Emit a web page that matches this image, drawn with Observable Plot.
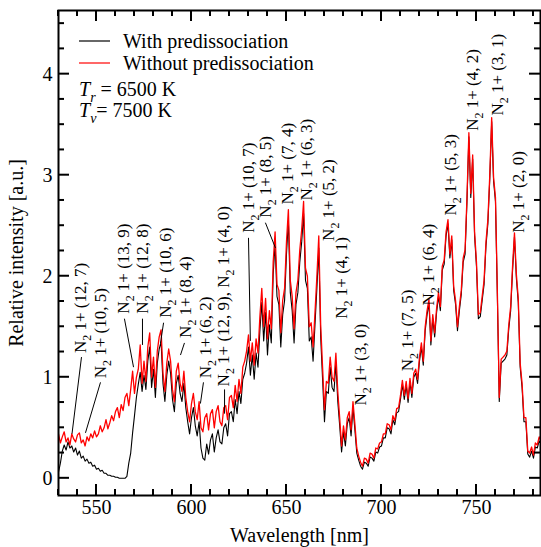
<!DOCTYPE html>
<html><head><meta charset="utf-8">
<script src="https://cdn.jsdelivr.net/npm/d3@7"></script>
<script src="https://cdn.jsdelivr.net/npm/@observablehq/plot@0.6"></script>
<style>body{margin:0;background:#fff}#chart svg{display:block}</style>
</head><body><div id="chart"></div>
<script>
// sampled wavelength grid (nm)
const wavelengths = d3.range(529, 785);
// "With predissociation" (black)
const withPre = [
0.00,0.06,0.15,0.27,0.33,0.28,0.36,0.30,0.32,0.26,
0.30,0.23,0.27,0.20,0.22,0.17,0.19,0.15,0.16,0.12,
0.13,0.09,0.10,0.07,0.08,0.05,0.05,0.03,0.03,0.02,
0.02,0.01,0.01,0.00,0.00,0.00,0.00,0.02,0.15,0.25,
0.45,0.62,0.80,0.93,1.05,0.86,1.02,0.88,1.16,1.30,
0.90,1.08,0.80,1.14,1.28,1.35,0.94,0.76,1.02,1.16,
1.04,0.78,0.66,0.94,1.02,0.84,0.76,0.94,0.70,0.56,
0.44,0.60,0.70,0.52,0.42,0.56,0.30,0.20,0.18,0.34,
0.24,0.38,0.44,0.26,0.40,0.48,0.36,0.34,0.50,0.54,
0.42,0.64,0.66,0.56,0.78,0.64,0.86,0.74,0.98,1.04,
1.14,1.30,1.02,1.22,0.98,1.24,1.10,1.46,1.74,1.36,
1.64,1.22,1.52,1.34,2.02,2.32,1.80,1.72,1.30,1.62,
1.76,2.22,2.55,1.84,1.66,1.34,1.72,1.84,2.14,2.34,
2.62,1.96,1.88,1.36,1.40,1.16,1.52,1.88,2.28,1.40,
0.98,0.56,0.86,0.84,1.10,0.90,0.86,1.14,0.76,0.52,
0.26,0.46,0.32,0.54,0.60,0.42,0.70,0.48,0.25,0.18,
0.12,0.09,0.16,0.15,0.12,0.21,0.20,0.17,0.26,0.25,
0.31,0.32,0.40,0.40,0.50,0.49,0.44,0.58,0.53,0.65,
0.66,0.78,0.93,0.78,0.92,0.75,0.95,0.80,1.00,1.04,
0.94,1.16,1.30,1.12,1.46,1.62,1.73,1.32,1.58,1.40,
1.64,1.80,1.66,2.06,2.12,2.40,2.52,2.18,2.36,1.86,
1.72,1.46,1.66,1.82,2.14,2.22,2.74,3.38,2.78,3.16,
2.40,2.10,1.58,1.60,1.76,1.92,2.30,2.52,2.96,3.53,
2.94,2.74,1.80,0.76,1.14,1.16,1.18,1.22,1.48,1.66,
2.06,2.39,1.98,1.74,1.10,0.90,0.56,0.56,0.24,0.21,
0.27,0.20,0.31,0.30,0.37,0.34];
// "Without predissociation" (red)
const withoutPre = [
0.38,0.44,0.35,0.41,0.46,0.36,0.40,0.33,0.44,0.39,
0.36,0.43,0.45,0.35,0.38,0.32,0.41,0.37,0.44,0.40,
0.47,0.41,0.44,0.52,0.46,0.50,0.58,0.49,0.55,0.62,
0.57,0.66,0.70,0.60,0.73,0.67,0.80,0.84,0.72,0.88,
1.06,0.84,1.00,1.08,1.32,0.94,1.16,0.96,1.30,1.44,
1.00,1.20,0.90,1.26,1.40,1.47,1.04,0.86,1.14,1.28,
1.16,0.88,0.76,1.06,1.14,0.94,0.86,1.06,0.80,0.66,
0.56,0.74,0.84,0.66,0.58,0.76,0.50,0.46,0.60,0.64,
0.48,0.64,0.68,0.50,0.66,0.72,0.56,0.52,0.70,0.72,
0.58,0.80,0.82,0.70,0.92,0.76,0.98,0.84,1.10,1.16,
1.26,1.42,1.16,1.34,1.12,1.38,1.24,1.60,1.88,1.50,
1.78,1.38,1.66,1.48,2.14,2.44,1.92,1.86,1.44,1.76,
1.88,2.34,2.66,1.96,1.80,1.48,1.84,1.96,2.26,2.46,
2.74,2.08,2.00,1.50,1.54,1.30,1.64,2.00,2.40,1.52,
1.10,0.68,0.96,0.94,1.20,1.00,0.96,1.24,0.86,0.60,
0.32,0.52,0.38,0.60,0.66,0.48,0.76,0.54,0.30,0.22,
0.16,0.12,0.20,0.19,0.15,0.25,0.24,0.20,0.30,0.29,
0.35,0.36,0.44,0.44,0.54,0.53,0.48,0.62,0.57,0.69,
0.70,0.82,0.97,0.82,0.96,0.79,0.99,0.84,1.04,1.08,
0.98,1.20,1.34,1.16,1.50,1.66,1.77,1.36,1.62,1.44,
1.68,1.84,1.70,2.10,2.16,2.44,2.56,2.22,2.40,1.90,
1.76,1.50,1.70,1.86,2.18,2.26,2.78,3.42,2.82,3.20,
2.44,2.14,1.62,1.64,1.80,1.96,2.34,2.56,3.00,3.57,
2.98,2.78,1.84,0.80,1.18,1.20,1.22,1.26,1.52,1.70,
2.10,2.43,2.02,1.78,1.14,0.94,0.60,0.60,0.27,0.25,
0.31,0.23,0.35,0.33,0.41,0.37];

const xTicks = [550, 600, 650, 700, 750];
const xMinorTicks = [530,540,560,570,580,590,610,620,630,640,660,670,680,690,710,720,730,740,760,770,780];
const yTicks = [0, 1, 2, 3, 4];
const yMinorTicks = [0.25,0.5,0.75,1.25,1.5,1.75,2.25,2.5,2.75,3.25,3.5,3.75,4.25,4.5];

// band annotations (text, anchor wavelength, anchor intensity)
const labelText = [
"N_{2} 1+ (12, 7)","N_{2} 1+ (10, 5)","N_{2} 1+ (13, 9)","N_{2} 1+ (12, 8)",
"N_{2} 1+ (10, 6)","N_{2} 1+ (8, 4)","N_{2} 1+ (6, 2)","N_{2} 1+ (12, 9), N_{2} 1+ (4, 0)",
"N_{2} 1+ (10, 7)","N_{2} 1+ (8, 5)","N_{2} 1+ (7, 4)","N_{2} 1+ (6, 3)",
"N_{2} 1+ (5, 2)","N_{2} 1+ (4, 1)","N_{2} 1+ (3, 0)","N_{2} 1+ (7, 5)",
"N_{2} 1+ (6, 4)","N_{2} 1+ (5, 3)","N_{2} 1+ (4, 2)","N_{2} 1+ (3, 1)","N_{2} 1+ (2, 0)"];
const labelX = [541.6,552.1,564.2,574.2,586.3,596.8,607.4,616.8,630.0,638.9,650.5,660.5,672.1,678.9,688.9,713.7,724.7,736.3,747.9,761.1,772.1];
const labelY = [1.24,0.99,1.63,1.63,1.59,1.39,0.99,0.91,2.43,2.58,2.71,2.75,2.35,1.58,0.72,1.06,1.71,2.60,3.44,3.59,2.43];

// leader lines
const leadX1 = [542.1,552.1,564.7,574.2,585.3,596.3,606.3,617.4,630.0,638.9];
const leadY1 = [1.20,0.95,1.58,1.58,1.54,1.34,0.95,0.88,2.38,2.53];
const leadX2 = [537.1,544.2,569.5,574.2,583.7,594.2,604.7,617.4,631.0,644.2];
const leadY2 = [0.44,0.45,1.10,1.32,1.34,1.22,0.74,0.64,1.36,2.28];

const seriesNames = ["With predissociation", "Without predissociation"];
const seriesColors = ["#000000", "#ff0000"];
const tempText = ["*T*_{*r*} = 6500 K", "*T*_{*v*}= 7500 K"];

const FONT = "'Liberation Serif','Times New Roman',serif";
const idx = d3.range(wavelengths.length);
const lab = d3.range(labelText.length);
const lead = d3.range(leadX1.length);

const plot = Plot.plot({
  width: 541, height: 547,
  marginLeft: 58, marginRight: 1, marginTop: 10, marginBottom: 52,
  style: {fontFamily: FONT, fontSize: "20px", background: "white", color: "black"},
  x: {domain: [530, 783.7]},
  y: {domain: [-0.17, 4.63]},
  marks: [
    Plot.line(idx, {x: i => wavelengths[i], y: i => withPre[i], stroke: seriesColors[0], strokeWidth: 1.1, clip: true}),
    Plot.line(idx, {x: i => wavelengths[i], y: i => withoutPre[i], stroke: seriesColors[1], strokeWidth: 1.3, clip: true}),
    Plot.link(lead, {x1: i => leadX1[i], y1: i => leadY1[i], x2: i => leadX2[i], y2: i => leadY2[i], stroke: "black", strokeWidth: 1}),
    Plot.text(lab, {x: i => labelX[i], y: i => labelY[i], text: i => labelText[i], rotate: -90, textAnchor: "start", fontSize: 17, fill: "black"}),
    Plot.axisX({ticks: xTicks, tickSize: 0, tickPadding: 4, tickFormat: d => String(d), label: "Wavelength [nm]", labelAnchor: "center", labelArrow: "none", labelOffset: 46, fontSize: 20}),
    Plot.axisY({ticks: yTicks, tickSize: 0, tickPadding: 6, tickFormat: d => String(d), label: "Relative intensity [a.u.]", labelAnchor: "center", labelArrow: "none", labelOffset: 50, fontSize: 20}),
    Plot.frame({stroke: "black", strokeWidth: 2})
  ]
});

const svgns = "http://www.w3.org/2000/svg";
function richText(el, str, fs) {
  while (el.firstChild) el.removeChild(el.firstChild);
  const re = /_\{(\*?)([^}*]*)\*?\}|\*([^*]+)\*|([^_*]+)/g;
  let m, shifted = false;
  const sh = fs * 0.28;
  while ((m = re.exec(str))) {
    const t = document.createElementNS(svgns, "tspan");
    if (m[0].startsWith("_{")) {
      t.textContent = m[2];
      t.setAttribute("font-size", fs * 0.7);
      t.setAttribute("dy", sh);
      if (m[1]) t.setAttribute("font-style", "italic");
      shifted = true;
    } else {
      if (m[3] !== undefined) { t.textContent = m[3]; t.setAttribute("font-style", "italic"); }
      else t.textContent = m[4];
      if (shifted) { t.setAttribute("dy", -sh); shifted = false; }
    }
    el.appendChild(t);
  }
}

const svg = d3.select(plot);
svg.selectAll("text").each(function() {
  const s = this.textContent;
  if (s.includes("_{")) richText(this, s, 17);
});

const sx = plot.scale("x"), sy = plot.scale("y");
const [xl, xr] = sx.range, [yb, yt] = sy.range;
const tg = svg.append("g").attr("stroke", "black").attr("stroke-width", 2);
function tickX(v, len) {
  const x = sx.apply(v);
  tg.append("line").attr("x1", x).attr("x2", x).attr("y1", yb).attr("y2", yb - len);
  tg.append("line").attr("x1", x).attr("x2", x).attr("y1", yt).attr("y2", yt + len);
}
function tickY(v, len) {
  const y = sy.apply(v);
  tg.append("line").attr("y1", y).attr("y2", y).attr("x1", xl).attr("x2", xl + len);
  tg.append("line").attr("y1", y).attr("y2", y).attr("x1", xr).attr("x2", xr - len);
}
xTicks.forEach(v => tickX(v, 11));
xMinorTicks.forEach(v => tickX(v, 6));
yTicks.forEach(v => tickY(v, 11));
yMinorTicks.forEach(v => tickY(v, 6));

// legend
const lg = svg.append("g").attr("font-family", FONT).attr("font-size", 20).attr("text-anchor", "start");
seriesNames.forEach((name, i) => {
  const cy = yt + 31 + i * 22;
  lg.append("line").attr("x1", xl + 21).attr("x2", xl + 52).attr("y1", cy).attr("y2", cy)
    .attr("stroke", seriesColors[i]).attr("stroke-width", 1.2);
  lg.append("text").attr("text-anchor", "start").attr("x", xl + 65).attr("y", cy + 6.5).text(name);
});
tempText.forEach((s, i) => {
  const t = lg.append("text").attr("text-anchor", "start").attr("x", xl + 21).attr("y", yt + 86 + i * 21);
  richText(t.node(), s, 20);
});

document.getElementById("chart").appendChild(plot);
</script>
</body></html>
